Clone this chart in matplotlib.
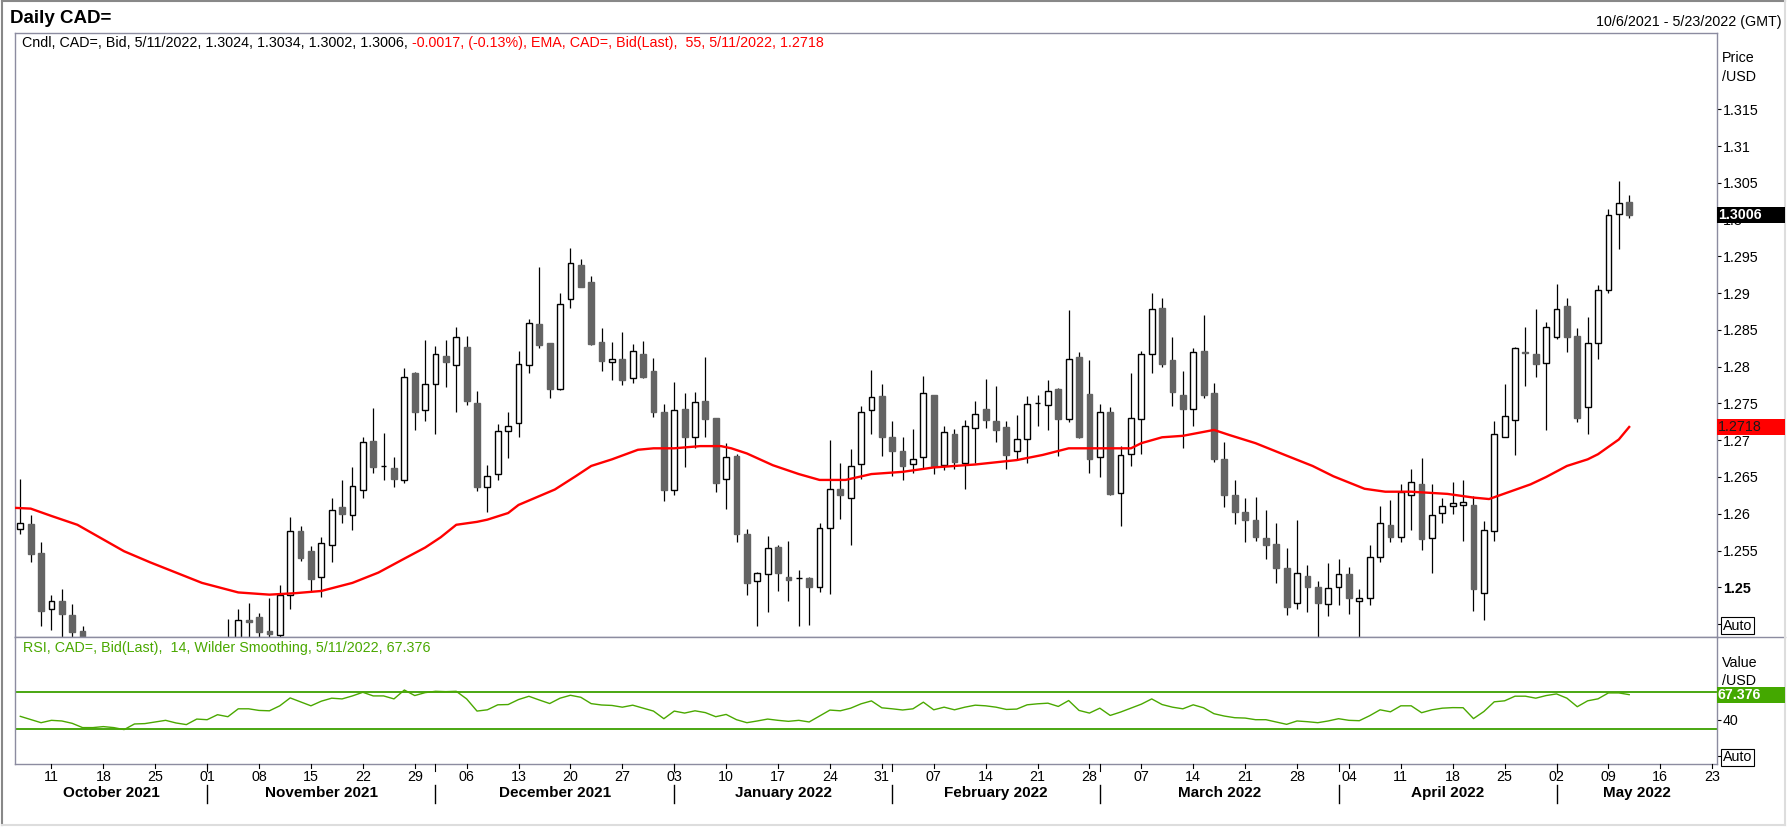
import numpy as np
import matplotlib.pyplot as plt
import matplotlib.transforms as mtransforms
from matplotlib.patches import Rectangle
from matplotlib.lines import Line2D

plt.rcParams['font.family'] = ['Liberation Sans', 'DejaVu Sans']

W, H = 1788, 827


def fx(x):
    return x / W


def fy(y):
    return 1 - y / H


# daily candles, Oct 6 2021 .. May 11 2022 (one per weekday)
opens = [1.2579, 1.2586, 1.2547, 1.2471, 1.2481, 1.2462, 1.2441, 1.2372, 1.2375, 1.2380,
         1.2360, 1.2320, 1.2370, 1.2375, 1.2388, 1.2402, 1.2380, 1.2368, 1.2405, 1.2398,
         1.2422, 1.2418, 1.2455, 1.2460, 1.2441, 1.2435, 1.2489, 1.2576, 1.2549, 1.2514,
         1.2557, 1.2609, 1.2598, 1.2632, 1.2699, 1.2665, 1.2662, 1.2646, 1.2791, 1.2741,
         1.2777, 1.2815, 1.2802, 1.2827, 1.2751, 1.2636, 1.2654, 1.2712, 1.2724, 1.2802,
         1.2858, 1.2832, 1.2770, 1.2892, 1.2938, 1.2915, 1.2834, 1.2807, 1.2811, 1.2784,
         1.2817, 1.2794, 1.2738, 1.2632, 1.2743, 1.2704, 1.2754, 1.2730, 1.2647, 1.2679,
         1.2572, 1.2508, 1.2518, 1.2555, 1.2514, 1.2512, 1.2513, 1.2501, 1.2580, 1.2633,
         1.2621, 1.2667, 1.2741, 1.2760, 1.2705, 1.2685, 1.2667, 1.2677, 1.2762, 1.2666,
         1.2709, 1.2669, 1.2716, 1.2742, 1.2726, 1.2718, 1.2685, 1.2701, 1.2751, 1.2748,
         1.2769, 1.2729, 1.2813, 1.2763, 1.2677, 1.2738, 1.2628, 1.2681, 1.2729, 1.2817,
         1.2880, 1.2809, 1.2762, 1.2742, 1.2821, 1.2764, 1.2675, 1.2626, 1.2602, 1.2592,
         1.2567, 1.2559, 1.2526, 1.2479, 1.2515, 1.2500, 1.2477, 1.2500, 1.2518, 1.2481,
         1.2485, 1.2541, 1.2585, 1.2569, 1.2626, 1.2640, 1.2567, 1.2601, 1.2610, 1.2612,
         1.2612, 1.2492, 1.2576, 1.2705, 1.2728, 1.2820, 1.2817, 1.2805, 1.2840, 1.2882,
         1.2842, 1.2745, 1.2832, 1.2904, 1.3007, 1.3024]
highs = [1.2647, 1.2598, 1.2561, 1.2490, 1.2498, 1.2477, 1.2448, 1.2390, 1.2392, 1.2388,
         1.2370, 1.2390, 1.2392, 1.2402, 1.2420, 1.2410, 1.2392, 1.2412, 1.2420, 1.2428,
         1.2457, 1.2471, 1.2479, 1.2465, 1.2486, 1.2503, 1.2596, 1.2584, 1.2556, 1.2568,
         1.2622, 1.2646, 1.2663, 1.2704, 1.2744, 1.2710, 1.2677, 1.2798, 1.2793, 1.2836,
         1.2828, 1.2836, 1.2854, 1.2842, 1.2767, 1.2666, 1.2722, 1.2738, 1.2821, 1.2865,
         1.2935, 1.2832, 1.2900, 1.2962, 1.2946, 1.2923, 1.2853, 1.2834, 1.2847, 1.2831,
         1.2835, 1.2812, 1.2749, 1.2779, 1.2764, 1.2766, 1.2813, 1.2730, 1.2696, 1.2681,
         1.2579, 1.2521, 1.2570, 1.2558, 1.2563, 1.2524, 1.2514, 1.2588, 1.2700, 1.2669,
         1.2688, 1.2746, 1.2796, 1.2777, 1.2726, 1.2704, 1.2715, 1.2787, 1.2762, 1.2720,
         1.2715, 1.2728, 1.2753, 1.2783, 1.2774, 1.2726, 1.2734, 1.2760, 1.2761, 1.2782,
         1.2771, 1.2877, 1.2820, 1.2809, 1.2749, 1.2745, 1.2692, 1.2791, 1.2821, 1.2900,
         1.2893, 1.2840, 1.2794, 1.2825, 1.2870, 1.2778, 1.2698, 1.2646, 1.2621, 1.2623,
         1.2605, 1.2587, 1.2553, 1.2592, 1.2530, 1.2509, 1.2533, 1.2539, 1.2528, 1.2498,
         1.2558, 1.2611, 1.2619, 1.2641, 1.2661, 1.2676, 1.2641, 1.2621, 1.2643, 1.2646,
         1.2624, 1.2590, 1.2726, 1.2777, 1.2827, 1.2854, 1.2879, 1.2861, 1.2912, 1.2893,
         1.2852, 1.2867, 1.2911, 1.3014, 1.3052, 1.3034]
lows = [1.2572, 1.2535, 1.2447, 1.2442, 1.2420, 1.2405, 1.2365, 1.2350, 1.2345, 1.2340,
        1.2288, 1.2315, 1.2350, 1.2360, 1.2372, 1.2368, 1.2350, 1.2360, 1.2382, 1.2390,
        1.2400, 1.2410, 1.2425, 1.2428, 1.2430, 1.2432, 1.2471, 1.2536, 1.2495, 1.2487,
        1.2535, 1.2587, 1.2578, 1.2622, 1.2655, 1.2646, 1.2636, 1.2642, 1.2714, 1.2726,
        1.2708, 1.2773, 1.2738, 1.2748, 1.2631, 1.2603, 1.2646, 1.2676, 1.2704, 1.2792,
        1.2825, 1.2758, 1.2768, 1.2880, 1.2908, 1.2830, 1.2794, 1.2782, 1.2775, 1.2778,
        1.2785, 1.2731, 1.2618, 1.2625, 1.2664, 1.2689, 1.2704, 1.2629, 1.2607, 1.2562,
        1.2490, 1.2448, 1.2466, 1.2495, 1.2482, 1.2447, 1.2449, 1.2494, 1.2491, 1.2593,
        1.2557, 1.2647, 1.2709, 1.2678, 1.2652, 1.2646, 1.2655, 1.2662, 1.2654, 1.2660,
        1.2661, 1.2633, 1.2669, 1.2716, 1.2698, 1.2661, 1.2674, 1.2669, 1.2719, 1.2714,
        1.2678, 1.2725, 1.2703, 1.2656, 1.2650, 1.2625, 1.2583, 1.2665, 1.2681, 1.2792,
        1.2800, 1.2747, 1.2690, 1.2719, 1.2757, 1.2671, 1.2609, 1.2586, 1.2561, 1.2563,
        1.2539, 1.2506, 1.2462, 1.2470, 1.2466, 1.2425, 1.2461, 1.2476, 1.2464, 1.2420,
        1.2476, 1.2534, 1.2561, 1.2562, 1.2578, 1.2551, 1.2519, 1.2588, 1.2600, 1.2563,
        1.2468, 1.2455, 1.2563, 1.2704, 1.2680, 1.2774, 1.2786, 1.2714, 1.2838, 1.2820,
        1.2725, 1.2708, 1.2810, 1.2900, 1.2960, 1.3002]
closes = [1.2587, 1.2545, 1.2468, 1.2481, 1.2464, 1.2439, 1.2372, 1.2375, 1.2380, 1.2360,
          1.2320, 1.2370, 1.2375, 1.2388, 1.2402, 1.2380, 1.2368, 1.2405, 1.2398, 1.2422,
          1.2418, 1.2455, 1.2453, 1.2439, 1.2436, 1.2489, 1.2576, 1.2540, 1.2511, 1.2560,
          1.2605, 1.2599, 1.2638, 1.2697, 1.2663, 1.2665, 1.2647, 1.2786, 1.2738, 1.2777,
          1.2817, 1.2807, 1.2841, 1.2753, 1.2637, 1.2651, 1.2712, 1.2719, 1.2803, 1.2860,
          1.2829, 1.2769, 1.2885, 1.2941, 1.2908, 1.2831, 1.2808, 1.2810, 1.2782, 1.2821,
          1.2786, 1.2739, 1.2632, 1.2741, 1.2704, 1.2752, 1.2729, 1.2642, 1.2677, 1.2573,
          1.2506, 1.2519, 1.2553, 1.2519, 1.2510, 1.2512, 1.2501, 1.2580, 1.2633, 1.2626,
          1.2665, 1.2739, 1.2759, 1.2704, 1.2685, 1.2665, 1.2675, 1.2764, 1.2665, 1.2711,
          1.2670, 1.2719, 1.2735, 1.2727, 1.2714, 1.2680, 1.2701, 1.2749, 1.2751, 1.2767,
          1.2729, 1.2810, 1.2704, 1.2674, 1.2739, 1.2627, 1.2680, 1.2730, 1.2817, 1.2879,
          1.2803, 1.2766, 1.2742, 1.2820, 1.2762, 1.2675, 1.2625, 1.2602, 1.2591, 1.2568,
          1.2558, 1.2526, 1.2473, 1.2519, 1.2501, 1.2479, 1.2499, 1.2518, 1.2485, 1.2485,
          1.2541, 1.2588, 1.2568, 1.2629, 1.2643, 1.2565, 1.2598, 1.2610, 1.2614, 1.2616,
          1.2497, 1.2578, 1.2709, 1.2733, 1.2825, 1.2818, 1.2804, 1.2854, 1.2878, 1.2840,
          1.2730, 1.2832, 1.2904, 1.3006, 1.3023, 1.3006]

# 55 EMA (x in trading-day index)
ema_x = [-0.5, 1, 3, 5.5, 8, 10, 12.5, 15, 17.5, 21, 24, 26.5, 29, 32, 34.5, 37, 39, 40.5,
         42, 44, 45, 47, 48, 49.5, 51.5, 53.5, 55, 57, 59.5, 61, 63, 65.5, 67.5, 68.5, 70,
         72.5, 75, 77, 79.5, 82, 85, 88, 92, 96, 98.5, 101, 107, 108, 110, 112, 115, 116.5,
         119, 122, 124.5, 126.5, 129.5, 131.5, 134, 137.5, 140, 141.5, 143.5, 145.5, 147,
         149, 151, 152, 153, 154, 155]
ema_v = [1.2608, 1.2607, 1.2597, 1.2585, 1.2565, 1.2549, 1.2534, 1.2520, 1.2506, 1.2493,
         1.2490, 1.2492, 1.2495, 1.2506, 1.2520, 1.2539, 1.2554, 1.2568, 1.2585, 1.2589,
         1.2592, 1.2601, 1.2612, 1.2621, 1.2633, 1.2651, 1.2665, 1.2674, 1.2687, 1.2689,
         1.2689, 1.2692, 1.2692, 1.2689, 1.2682, 1.2666, 1.2654, 1.2646, 1.2646, 1.2654,
         1.2657, 1.2663, 1.2667, 1.2673, 1.2680, 1.2689, 1.2689, 1.2696, 1.2704, 1.2706,
         1.2714, 1.2707, 1.2696, 1.2679, 1.2665, 1.2651, 1.2634, 1.2630, 1.2630, 1.2627,
         1.2622, 1.2620, 1.2630, 1.2640, 1.2650, 1.2665, 1.2674, 1.2681, 1.2691, 1.2701,
         1.2718]

# RSI 14, one value per candle
rsi = [43.5, 40.0, 36.5, 39.1, 38.4, 35.8, 31.1, 31.1, 32.2, 31.1,
       28.9, 35.1, 35.5, 37.3, 39.1, 36.2, 34.4, 40.5, 39.8, 45.3,
       43.1, 51.8, 51.8, 50.0, 49.6, 55.1, 63.8, 59.5, 55.1, 60.2,
       63.5, 62.7, 66.0, 70.0, 66.0, 66.0, 62.7, 72.5, 66.4, 69.6,
       71.1, 70.7, 71.1, 62.7, 49.3, 50.7, 56.2, 56.5, 62.0, 65.6,
       61.5, 57.6, 63.5, 66.7, 64.5, 57.5, 56.0, 55.5, 53.6, 55.8,
       52.5, 49.3, 40.9, 49.3, 47.1, 49.6, 47.6, 43.1, 45.6, 39.8,
       36.5, 38.4, 40.5, 39.1, 38.0, 39.1, 37.3, 43.8, 50.4, 49.6,
       52.5, 57.3, 60.5, 52.9, 51.8, 50.5, 51.8, 59.1, 50.7, 53.6,
       50.7, 53.6, 55.8, 55.1, 53.6, 51.1, 51.5, 56.2, 57.3, 58.0,
       54.4, 60.9, 50.0, 47.1, 52.5, 44.5, 48.2, 52.5, 56.9, 62.7,
       56.5, 53.6, 51.8, 56.2, 52.9, 46.4, 43.8, 42.0, 41.6, 39.8,
       39.8, 37.3, 34.7, 38.4, 37.6, 36.5, 38.4, 40.9, 39.1, 38.7,
       44.2, 50.7, 48.5, 55.1, 55.1, 47.5, 50.7, 52.5, 53.1, 53.0,
       41.0, 48.8, 59.5, 60.6, 65.7, 65.7, 63.5, 66.4, 68.2, 63.5,
       54.1, 60.6, 62.8, 69.3, 69.3, 67.4]

price_ticks = [1.245, 1.25, 1.255, 1.26, 1.265, 1.27, 1.275, 1.28, 1.285, 1.29, 1.295,
               1.30, 1.305, 1.31, 1.315]
day_labels = ['11', '18', '25', '01', '08', '15', '22', '29', '06', '13', '20', '27',
              '03', '10', '17', '24', '31', '07', '14', '21', '28', '07', '14', '21', '28',
              '04', '11', '18', '25', '02', '09', '16', '23']
month_labels = ['October 2021', 'November 2021', 'December 2021', 'January 2022',
                'February 2022', 'March 2022', 'April 2022', 'May 2022']
month_starts = [18, 40, 63, 84, 104, 127, 148]   # first trading day index of each month

FRAME = '#8c8ca0'
GREEN = '#3ca000'
FS = 10.3

fig = plt.figure(figsize=(W / 100, H / 100), dpi=100)
ax = fig.add_axes([fx(15), fy(637), fx(1717) - fx(15), fy(33) - fy(637)])
ax2 = fig.add_axes([fx(15), fy(764), fx(1717) - fx(15), fy(637) - fy(764)])

xlim = (-0.51, 163.46)

# candles
o = np.array(opens)
c = np.array(closes)
idx = np.arange(len(c))
up = c >= o
bottom = np.minimum(o, c)
height = np.abs(c - o)
ax.vlines(idx, lows, highs, color='black', lw=0.9, zorder=1)
ax.bar(idx[up], height[up], 0.56, bottom[up], facecolor='white', edgecolor='black',
       lw=1.0, zorder=2)
ax.bar(idx[~up], height[~up], 0.56, bottom[~up], facecolor='#646464', edgecolor='#646464',
       lw=1.0, zorder=2)
ax.plot(ema_x, ema_v, color='#ff0000', lw=1.7, zorder=3)

ax.set_xlim(*xlim)
ax.set_ylim(1.24324, 1.32538)
ax.tick_params(left=False, labelleft=False, bottom=False, labelbottom=False)
ax.yaxis.tick_right()
ax.set_yticks(price_ticks)
ax.set_yticklabels(['Auto' if v == 1.245 else f'{v:g}' for v in price_ticks])
ax.tick_params(axis='y', right=True, labelright=True, length=2.8, width=0.8,
               color='black', pad=1.5, labelsize=FS)
for lab in ax.get_yticklabels():
    if lab.get_text() == '1.25':
        lab.set_fontweight('bold')
    if lab.get_text() == 'Auto':
        lab.set_bbox(dict(boxstyle='square,pad=0.12', fc='white', ec='black', lw=0.8))

# RSI panel
ax2.plot(idx, rsi, color='#4aa800', lw=1.0, zorder=2)
ax2.axhline(70, color=GREEN, lw=1.3, zorder=1)
ax2.axhline(30, color=GREEN, lw=1.3, zorder=1)
ax2.set_xlim(*xlim)
ax2.set_ylim(-9.0, 130.9)
ax2.tick_params(left=False, labelleft=False, bottom=False, labelbottom=False)
ax2.yaxis.tick_right()
ax2.set_yticks([0, 40])
ax2.set_yticklabels(['Auto', '40'])
ax2.tick_params(axis='y', right=True, labelright=True, length=2.8, width=0.8,
                color='black', pad=1.5, labelsize=FS)
for lab in ax2.get_yticklabels():
    if lab.get_text() == 'Auto':
        lab.set_bbox(dict(boxstyle='square,pad=0.12', fc='white', ec='black', lw=0.8))

for a in (ax, ax2):
    for s in a.spines.values():
        s.set_color(FRAME)
        s.set_linewidth(1.0)

# separator between panels runs to the right edge
fig.add_artist(Line2D([fx(1717), fx(1785)], [fy(637), fy(637)], color=FRAME, lw=1.0))

# outer frame
fig.add_artist(Line2D([fx(1.5), fx(1785)], [fy(1), fy(1)], color='#888888', lw=1.5))
fig.add_artist(Line2D([fx(1.5), fx(1.5)], [fy(1), fy(825)], color='#888888', lw=1.5))
fig.add_artist(Line2D([fx(1.5), fx(1785)], [fy(825), fy(825)], color='#dddddd', lw=1.5))
fig.add_artist(Line2D([fx(1785), fx(1785)], [fy(1), fy(825)], color='#dddddd', lw=1.5))


# value tags on the right axis
def tag(a, value, text, bg, fg, weight):
    y = fig.transFigure.inverted().transform(a.transData.transform((0, value)))[1]
    fig.add_artist(Rectangle((fx(1717), y - 8 / H), fx(1785) - fx(1717), 16 / H,
                             transform=fig.transFigure, facecolor=bg, edgecolor='none',
                             zorder=5))
    fig.text(fx(1718), y, text, color=fg, fontsize=FS, fontweight=weight,
             va='center', ha='left', zorder=6)


tag(ax, closes[-1], '1.3006', 'black', 'white', 'bold')
tag(ax, ema_v[-1], '1.2718', '#ff0000', '#1a1a1a', 'normal')
tag(ax2, 67.376, '67.376', '#44a800', 'white', 'bold')

fig.text(fx(1722), fy(58), 'Price', fontsize=FS, va='center')
fig.text(fx(1722), fy(77), '/USD', fontsize=FS, va='center')
fig.text(fx(1722), fy(663), 'Value', fontsize=FS, va='center')
fig.text(fx(1722), fy(681), '/USD', fontsize=FS, va='center')

# titles
fig.text(fx(10), fy(22.7), 'Daily CAD=', fontsize=13.5, fontweight='bold', va='baseline')
fig.text(fx(1782), fy(26), '10/6/2021 - 5/23/2022 (GMT)', fontsize=FS, ha='right',
         va='baseline')
t1 = fig.text(fx(22.5), fy(43), 'Cndl, CAD=, Bid, 5/11/2022, 1.3024, 1.3034, 1.3002, 1.3006,',
              fontsize=FS, va='center', color='black')
bb = t1.get_window_extent(fig.canvas.get_renderer())
fig.text((bb.x1 + 4) / fig.bbox.width, fy(43),
         '-0.0017, (-0.13%), EMA, CAD=, Bid(Last),  55, 5/11/2022, 1.2718',
         fontsize=FS, va='center', color='#ff0000')
fig.text(fx(23), fy(648), 'RSI, CAD=, Bid(Last),  14, Wilder Smoothing, 5/11/2022, 67.376',
         fontsize=FS, va='center', color='#4aa800')

# date axis under the RSI panel
trans = mtransforms.blended_transform_factory(ax2.transData, fig.transFigure)
mondays = list(range(3, 164, 5))
for m, lab in zip(mondays, day_labels):
    fig.add_artist(Line2D([m, m], [fy(764), fy(768)], transform=trans, color='black',
                          lw=0.8))
    fig.text(m, fy(777), lab, transform=trans, ha='center', va='center', fontsize=FS)

bounds = [xlim[0]] + month_starts + [xlim[1]]
for m in month_starts:
    fig.add_artist(Line2D([m, m], [fy(764), fy(771)], transform=trans, color='black',
                          lw=0.8))
    fig.add_artist(Line2D([m, m], [fy(785), fy(803)], transform=trans, color='black',
                          lw=1.0))
for i, lab in enumerate(month_labels):
    mid = (bounds[i] + bounds[i + 1]) / 2
    fig.text(mid, fy(793), lab, transform=trans, ha='center', va='center', fontsize=11,
             fontweight='bold')

fig.savefig('out.png', dpi=100)
